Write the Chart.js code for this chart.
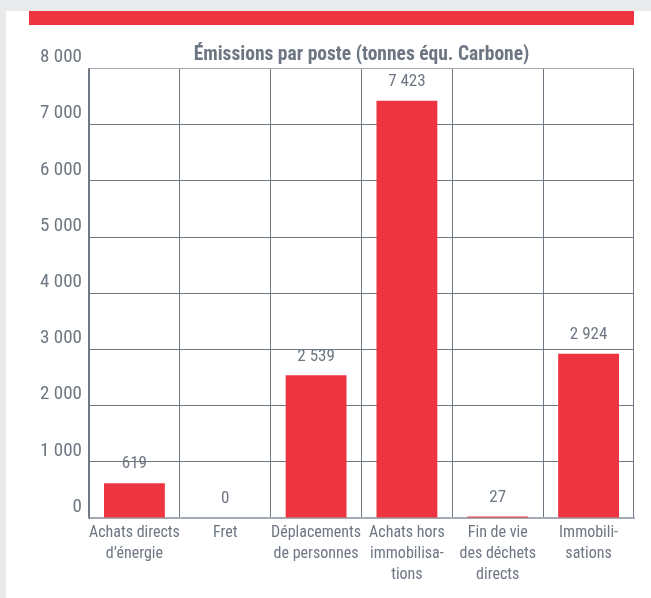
<!DOCTYPE html>
<html lang="fr">
<head>
<meta charset="utf-8">
<script src="https://cdn.jsdelivr.net/npm/chart.js@4"></script>
<style>
    html, body { margin: 0; padding: 0; }
    body { width: 651px; height: 598px; background: #e9eaec; position: relative; overflow: hidden; }
    .panel { position: absolute; left: 6px; top: 11px; width: 645px; height: 587px; background: #fff; }
    .band { position: absolute; left: 29px; top: 11px; width: 605px; height: 14px; background: #ee3440; }
    #emissions-chart { position: absolute; left: 0; top: 0; }
</style>
</head>
<body>
<div class="panel"></div>
<div class="band"></div>
<canvas id="emissions-chart" width="651" height="598"></canvas>
<script>
const categories = [
    ['Achats directs', 'd\u2019énergie'],
    'Fret',
    ['Déplacements', 'de personnes'],
    ['Achats hors', 'immobilisa-', 'tions'],
    ['Fin de vie', 'des déchets', 'directs'],
    ['Immobili-', 'sations']
];
const emissions = [619, 0, 2539, 7423, 27, 2924];
const yTicks = [0, 1000, 2000, 3000, 4000, 5000, 6000, 7000, 8000];
const chartTitle = 'Émissions par poste (tonnes équ. Carbone)';

const fontFamily = "'Roboto Condensed', 'DejaVu Sans Condensed', sans-serif";
const textColor = '#6d7682';
const barColor = '#ee3440';
const gridColor = '#6f7883';
const frameColor = '#a3aab1';

function formatNumber(value) {
    return String(value).replace(/\B(?=(\d{3})+(?!\d))/g, ' ');
}

// draws the value above each bar
const valueLabels = {
    id: 'valueLabels',
    afterDatasetsDraw(chart) {
        const ctx = chart.ctx;
        const meta = chart.getDatasetMeta(0);
        ctx.save();
        ctx.font = '17px ' + fontFamily;
        ctx.fillStyle = textColor;
        ctx.textAlign = 'center';
        ctx.textBaseline = 'middle';
        meta.data.forEach((bar, i) => {
            ctx.fillText(formatNumber(emissions[i]), bar.x, bar.y - 19);
        });
        ctx.restore();
    }
};

const data = {
    labels: categories,
    datasets: [
        {
            data: emissions,
            backgroundColor: barColor,
            borderWidth: 0,
            categoryPercentage: 1,
            barPercentage: 0.67
        }
    ]
};

const chartConfig = {
    type: 'bar',
    data: data,
    plugins: [valueLabels],
    options: {
        responsive: false,
        animation: false,
        devicePixelRatio: 1,
        layout: {
            padding: {top: 40, right: 17, bottom: 0, left: 0}
        },
        scales: {
            x: {
                grid: {
                    color: (ctx) => ctx.index === categories.length ? frameColor : gridColor,
                    lineWidth: (ctx) => ctx.index === categories.length ? 2 : 1,
                    drawTicks: false
                },
                border: {color: frameColor, width: 2},
                ticks: {
                    color: textColor,
                    padding: 5,
                    maxRotation: 0,
                    autoSkip: false,
                    font: {family: fontFamily, size: 16, lineHeight: 1.3}
                },
                afterFit: (scale) => { scale.height = 80; }
            },
            y: {
                min: 0,
                max: 8000,
                afterBuildTicks: (scale) => {
                    scale.ticks = yTicks.map((v) => ({value: v}));
                },
                grid: {
                    color: (ctx) => ctx.tick && ctx.tick.value === 8000 ? frameColor : gridColor,
                    drawTicks: false
                },
                border: {color: gridColor, width: 1},
                ticks: {
                    color: textColor,
                    padding: 7,
                    labelOffset: -11,
                    font: {family: fontFamily, size: 19},
                    callback: (value) => formatNumber(value)
                },
                afterFit: (scale) => { scale.width = 89; }
            }
        },
        plugins: {
            legend: {display: false},
            tooltip: {enabled: false},
            title: {
                display: true,
                text: chartTitle,
                fullSize: false,
                color: textColor,
                font: {family: fontFamily, size: 19.5, weight: 'bold'},
                padding: {top: 3, bottom: 2}
            }
        }
    }
};

const barChart = document.querySelector('#emissions-chart');
if (barChart) {
    const barChartVar = new Chart(barChart, chartConfig);
}
</script>
</body>
</html>
